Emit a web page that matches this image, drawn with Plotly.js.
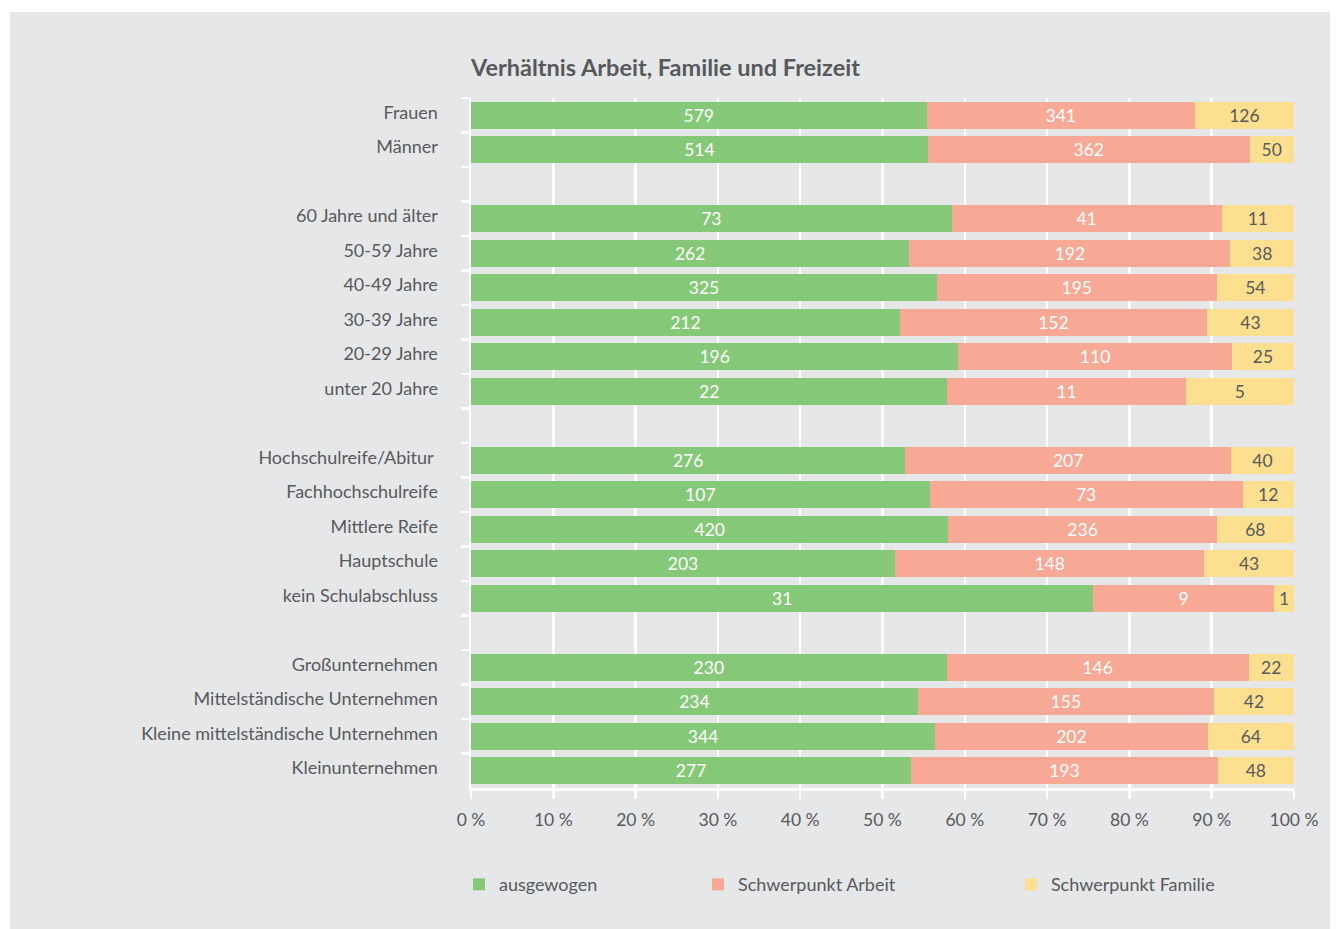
<!DOCTYPE html>
<html>
<head>
<meta charset="utf-8">
<script src="https://cdn.plot.ly/plotly-3.0.1.min.js"></script>
<style>
html,body{margin:0;padding:0;background:#ffffff;}
#chart{position:absolute;left:10px;top:12px;width:1320px;height:917px;}
</style>
</head>
<body>
<div id="chart"></div>
<script>
const categories = [
  "Frauen", "Männer",
  "60 Jahre und älter", "50-59 Jahre", "40-49 Jahre", "30-39 Jahre", "20-29 Jahre", "unter 20 Jahre",
  "Hochschulreife/Abitur ", "Fachhochschulreife", "Mittlere Reife", "Hauptschule", "kein Schulabschluss",
  "Großunternehmen", "Mittelständische Unternehmen", "Kleine mittelständische Unternehmen", "Kleinunternehmen"
];
// display order including blank spacer rows between groups
const categoryOrder = [
  "Frauen", "Männer", " ",
  "60 Jahre und älter", "50-59 Jahre", "40-49 Jahre", "30-39 Jahre", "20-29 Jahre", "unter 20 Jahre", "  ",
  "Hochschulreife/Abitur ", "Fachhochschulreife", "Mittlere Reife", "Hauptschule", "kein Schulabschluss", "   ",
  "Großunternehmen", "Mittelständische Unternehmen", "Kleine mittelständische Unternehmen", "Kleinunternehmen"
];
const ausgewogen        = [579, 514, 73, 262, 325, 212, 196, 22, 276, 107, 420, 203, 31, 230, 234, 344, 277];
const schwerpunktArbeit = [341, 362, 41, 192, 195, 152, 110, 11, 207, 73, 236, 148, 9, 146, 155, 202, 193];
const schwerpunktFamilie= [126, 50, 11, 38, 54, 43, 25, 5, 40, 12, 68, 43, 1, 22, 42, 64, 48];
const seriesNames = ["ausgewogen", "Schwerpunkt Arbeit", "Schwerpunkt Familie"];
const xTicks = [0, 10, 20, 30, 40, 50, 60, 70, 80, 90, 100];

const totals = categories.map((c, i) => ausgewogen[i] + schwerpunktArbeit[i] + schwerpunktFamilie[i]);
const pct = arr => arr.map((v, i) => v / totals[i] * 100);

const textColor = "#58595b";
const colors = ["#85c978", "#f8a996", "#fde08f"];
const labelColors = ["#ffffff", "#ffffff", "#58595b"];
const seriesData = [ausgewogen, schwerpunktArbeit, schwerpunktFamilie];
const legendIds = ["legend", "legend2", "legend3"];

const traces = seriesData.map((d, k) => ({
  type: "bar",
  orientation: "h",
  name: seriesNames[k],
  y: categories,
  x: pct(d),
  text: d.map(String),
  textposition: "inside",
  insidetextanchor: "middle",
  textangle: 0,
  textfont: {family: "Lato, sans-serif", size: 17.5, color: labelColors[k]},
  marker: {color: colors[k], line: {width: 0}},
  hoverinfo: "skip",
  legend: legendIds[k]
}));

const legendCommon = {
  orientation: "h",
  yanchor: "middle",
  y: -0.140,
  xanchor: "left",
  bgcolor: "rgba(0,0,0,0)",
  font: {family: "Lato, sans-serif", size: 18, color: textColor}
};

const layout = {
  width: 1320,
  height: 917,
  paper_bgcolor: "#e6e7e9",
  plot_bgcolor: "#e6e7e9",
  margin: {l: 461, r: 36, t: 86, b: 141},
  barmode: "stack",
  bargap: 0.22,
  uniformtext: {minsize: 17.5, mode: "show"},
  font: {family: "Lato, sans-serif", size: 17.5, color: textColor},
  title: {
    text: "Verhältnis Arbeit, Familie und Freizeit",
    font: {family: "Lato, sans-serif", size: 23.5, color: textColor, weight: "bold"},
    xref: "paper", x: 0, xanchor: "left",
    yref: "container", y: 1 - 56/917, yanchor: "middle"
  },
  xaxis: {
    range: [0, 100],
    tickvals: xTicks,
    ticktext: xTicks.map(v => v + " %"),
    showgrid: true,
    gridcolor: "#ffffff",
    gridwidth: 2.5,
    zeroline: false,
    showline: true,
    linecolor: "#ffffff",
    linewidth: 2.5,
    ticks: "outside",
    ticklen: 8,
    tickwidth: 2.5,
    tickcolor: "#ffffff",
    ticklabelstandoff: 6,
    tickfont: {family: "Lato, sans-serif", size: 17.5, color: textColor},
    fixedrange: true
  },
  yaxis: {
    type: "category",
    categoryorder: "array",
    categoryarray: categoryOrder,
    range: [categoryOrder.length - 0.5, -0.5],
    showgrid: false,
    zeroline: false,
    showline: true,
    linecolor: "#ffffff",
    linewidth: 2.5,
    ticks: "outside",
    tickson: "boundaries",
    ticklen: 8,
    tickwidth: 2.5,
    tickcolor: "#ffffff",
    ticklabelstandoff: 27,
    ticklabelshift: 3,
    tickfont: {family: "Lato, sans-serif", size: 18, color: textColor},
    fixedrange: true
  },
  legend: Object.assign({}, legendCommon, {x: -0.0146}),
  legend2: Object.assign({}, legendCommon, {x: 0.2758}),
  legend3: Object.assign({}, legendCommon, {x: 0.656}),
  showlegend: true
};

Plotly.newPlot("chart", traces, layout, {displayModeBar: false, staticPlot: true});
</script>
</body>
</html>
